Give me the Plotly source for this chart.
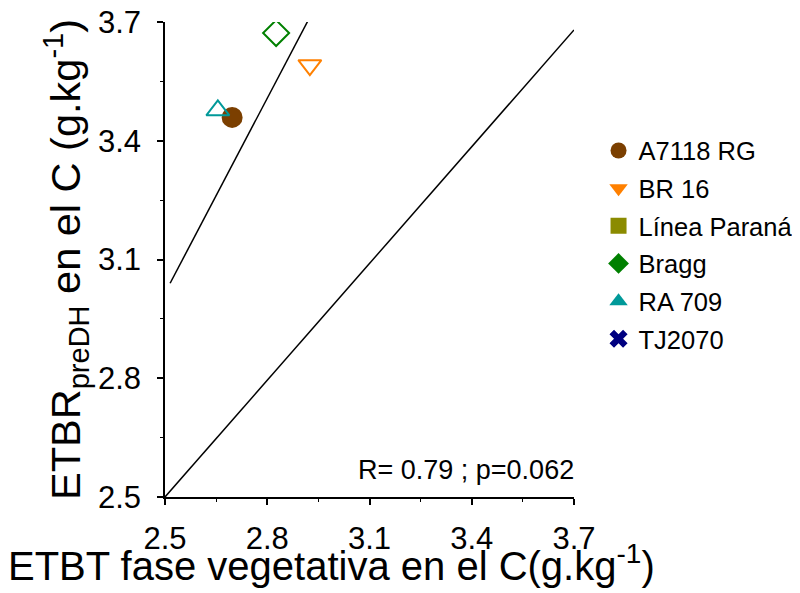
import plotly.graph_objects as go

# Data
cultivars = ["A7118 RG", "BR 16", "Línea Paraná", "Bragg", "RA 709", "TJ2070"]
x_vals = [2.697, 2.925, None, 2.826, 2.655, None]
y_vals = [3.459, 3.591, None, 3.672, 3.477, None]
colors = ["#7B3F00", "#FF8000", "#8B8B00", "#008000", "#009999", "#000080"]
symbols_plot = ["circle", "triangle-down-open", "square-open", "diamond-open", "triangle-up-open", "x-thin-open"]
symbols_legend = ["circle", "triangle-down", "square", "diamond", "triangle-up", "x"]

# Regression line and 1:1 line endpoints (data units)
reg_x = [2.515, 2.923]
reg_y = [3.040, 3.709]
one_x = [2.5, 3.7]
one_y = [2.5, 3.68]

tick_vals = [2.5, 2.8, 3.1, 3.4, 3.7]
tick_text = ["2.5", "2.8", "3.1", "3.4", "3.7"]
stat_text = "R= 0.79 ; p=0.062"
x_title = "ETBT fase vegetativa en el C(g.kg<sup>-1</sup>)"
y_title = "ETBR<sub>preDH</sub> en el C (g.kg<sup>-1</sup>)"

FONT = "Liberation Sans, Arial, sans-serif"

fig = go.Figure()

fig.add_trace(go.Scatter(x=one_x, y=one_y, mode="lines",
                         line=dict(color="black", width=1.5), showlegend=False, hoverinfo="skip"))
fig.add_trace(go.Scatter(x=reg_x, y=reg_y, mode="lines",
                         line=dict(color="black", width=1.5), showlegend=False, hoverinfo="skip"))

for name, xv, yv, c, sp in zip(cultivars, x_vals, y_vals, colors, symbols_plot):
    if xv is None:
        continue
    fig.add_trace(go.Scatter(x=[xv], y=[yv], mode="markers", name=name, showlegend=False,
                             marker=dict(symbol=sp, size=20 if "circle" not in sp else 19,
                                         color=c, line=dict(color=c, width=2))))

for name, c, sl in zip(cultivars, colors, symbols_legend):
    fig.add_trace(go.Scatter(x=[None], y=[None], mode="markers", name=name, legendgroup=name,
                             marker=dict(symbol=sl, size=20, color=c, line=dict(width=0))))

axis_common = dict(
    range=[2.5, 3.7], tickvals=tick_vals, ticktext=tick_text, automargin=False,
    ticklabeloverflow="allow",
    showgrid=False, zeroline=False, showline=True, linecolor="black", linewidth=1.5,
    ticks="outside", ticklen=6, tickwidth=1.5, tickcolor="black",
    minor=dict(ticks="outside", ticklen=3, tickwidth=1, tickcolor="black", dtick=0.15, tick0=2.5),
    tickfont=dict(family=FONT, size=31, color="black"),
)

fig.update_xaxes(**axis_common, ticklabelstandoff=7)
fig.update_yaxes(**axis_common, ticklabelstandoff=10,
                 title=dict(text=y_title,
                            font=dict(family=FONT, size=41.5, color="black"), standoff=4))

fig.add_annotation(x=0.408, y=-0.196, xref="paper", yref="paper", text=x_title, showarrow=False,
                   xanchor="center", yanchor="bottom",
                   font=dict(family=FONT, size=40, color="black"))

fig.add_annotation(x=3.7, y=2.5, xref="x", yref="y", text=stat_text, showarrow=False,
                   xanchor="right", yanchor="bottom", yshift=10, xshift=2,
                   font=dict(family=FONT, size=27, color="black"))

fig.update_layout(
    width=800, height=593,
    margin=dict(l=157, r=234, t=14, b=104, autoexpand=False),
    paper_bgcolor="white", plot_bgcolor="white",
    legend=dict(x=1.06, y=0.778, xanchor="left", yanchor="top",
                font=dict(family=FONT, size=25.5, color="black"), tracegroupgap=1.5,
                bgcolor="rgba(0,0,0,0)", itemsizing="trace"),
    font=dict(family=FONT, color="black"),
)

fig.write_html("out.html")
